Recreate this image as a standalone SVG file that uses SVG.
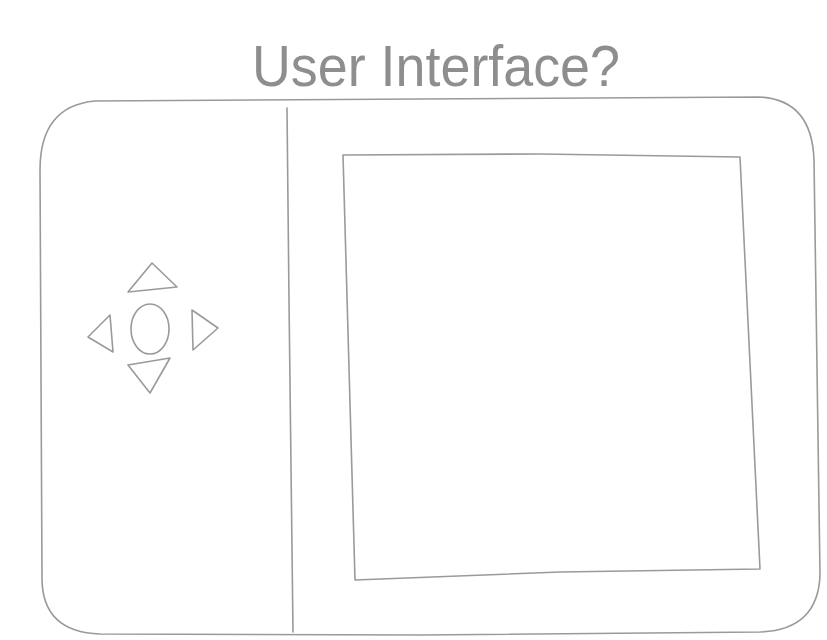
<svg xmlns="http://www.w3.org/2000/svg" width="827" height="640" viewBox="0 0 827 640">
<style>
.p{fill:none;stroke:#9a9a9a;stroke-width:1.6;stroke-linecap:round;stroke-linejoin:round}
.t{font-family:"Liberation Sans",Arial,sans-serif;fill:#8e8e8e;font-weight:normal}
</style>
<rect width="827" height="640" fill="#ffffff"/>
<text class="t" x="252" y="86" font-size="58" textLength="368" lengthAdjust="spacingAndGlyphs">User Interface?</text>
<g id="device">
<path class="p" d="M95 101 L420 99 L760 97 Q812 100 814 160 L820 575 Q818 630 760 632 L420 635 L100 634 Q42 632 42 578 L40 170 Q40 106 95 101 Z"/>
</g>
<g id="divider">
<path class="p" d="M287 108 L289 300 L293 632"/>
</g>
<g id="screen">
<path class="p" d="M343 155 L540 154 L740 157 L760 569 L560 572 L355 580 Z"/>
</g>
<g id="dpad">
<g id="btn-up"><path class="p" d="M152 263 L177 287 L128 292 Z"/></g>
<g id="btn-center"><ellipse class="p" cx="150" cy="329" rx="19" ry="25"/></g>
<g id="btn-left"><path class="p" d="M110 315 L88 337 L113 352 Z"/></g>
<g id="btn-right"><path class="p" d="M192 310 L218 328 L193 350 Z"/></g>
<g id="btn-down"><path class="p" d="M128 365 L170 358 L150 393 Z"/></g>
</g>
</svg>
